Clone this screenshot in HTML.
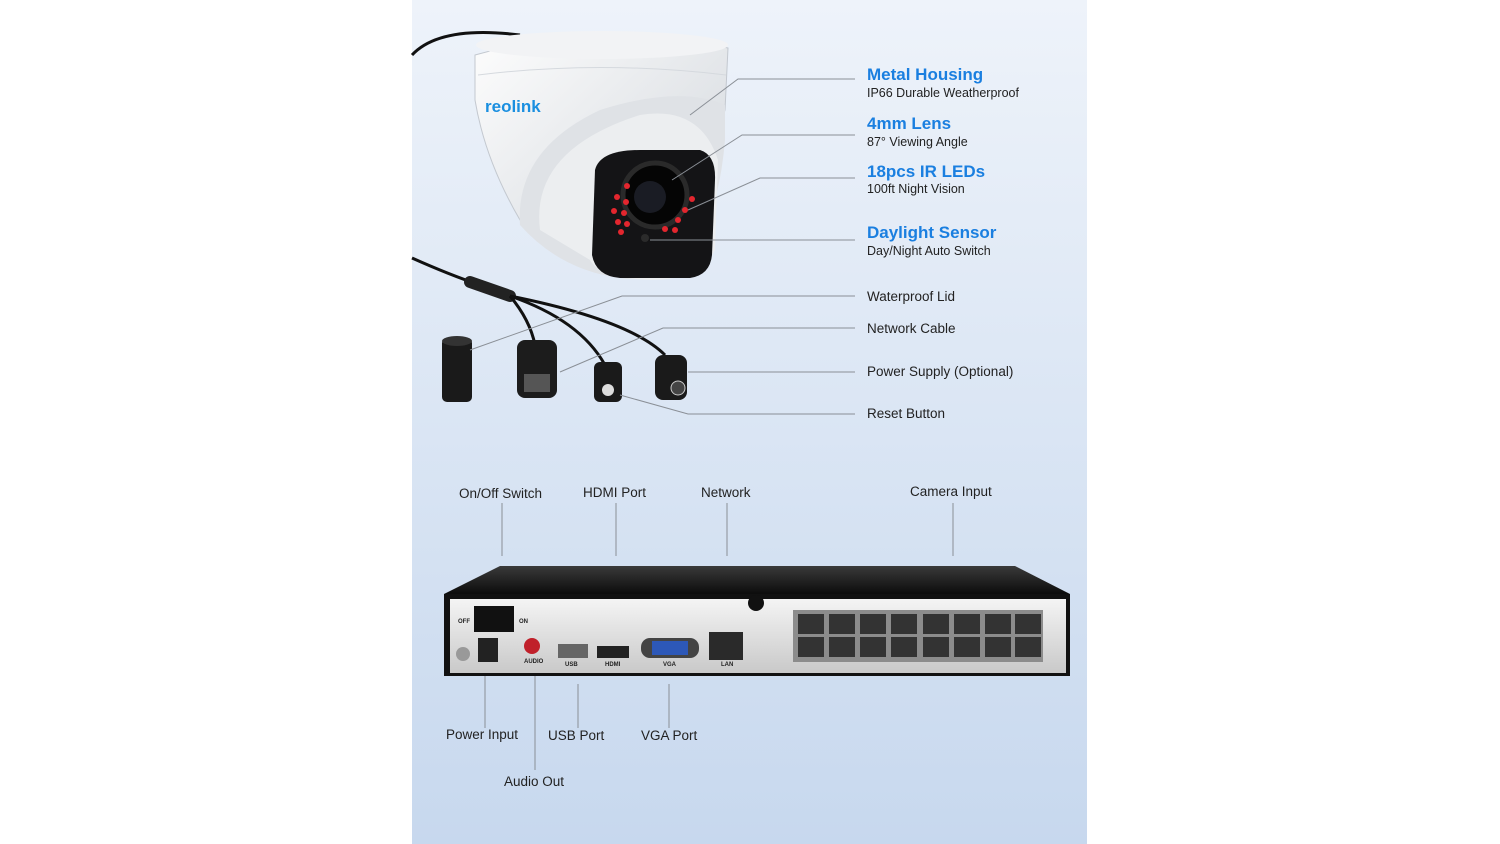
<!DOCTYPE html>
<html><head><meta charset="utf-8"><style>
html,body{margin:0;padding:0;width:1500px;height:844px;background:#fff;overflow:hidden}
svg{display:block}
text{font-family:"Liberation Sans",sans-serif}
</style></head><body>
<svg width="1500" height="844" viewBox="0 0 1500 844">
<defs>
<linearGradient id="bg" x1="0" y1="0" x2="0" y2="1">
<stop offset="0" stop-color="#eef3fa"/><stop offset="1" stop-color="#c7d8ee"/></linearGradient>
<linearGradient id="dome" x1="0" y1="0" x2="1" y2="1">
<stop offset="0" stop-color="#fdfdfd"/><stop offset="1" stop-color="#cfd4da"/></linearGradient>
<linearGradient id="top" x1="0" y1="0" x2="0" y2="1">
<stop offset="0" stop-color="#3a3a3a"/><stop offset="1" stop-color="#0c0c0c"/></linearGradient>
<linearGradient id="front" x1="0" y1="0" x2="0" y2="1">
<stop offset="0" stop-color="#f4f4f4"/><stop offset="1" stop-color="#c9c9c9"/></linearGradient>
</defs>
<rect x="412" y="0" width="675" height="844" fill="url(#bg)"/>
<path d="M412 55 Q440 25 520 35" stroke="#111" stroke-width="3" fill="none"/>
<path d="M412 258 Q450 275 480 285" stroke="#111" stroke-width="3" fill="none"/>
<path d="M470 282 L510 296" stroke="#222" stroke-width="12" stroke-linecap="round"/>
<path d="M510 296 Q530 320 535 345" stroke="#111" stroke-width="3" fill="none"/>
<path d="M510 296 Q580 320 605 365" stroke="#111" stroke-width="3" fill="none"/>
<path d="M510 296 Q630 320 665 355" stroke="#111" stroke-width="3" fill="none"/>
<!-- dome -->
<path d="M475 55 Q600 20 728 48 L725 110 Q700 200 640 270 Q560 260 520 220 Q485 160 475 100Z" fill="url(#dome)" stroke="#c3c8cf"/>
<ellipse cx="602" cy="45" rx="126" ry="14" fill="#f2f3f5"/>
<path d="M478 75 Q600 60 726 75" stroke="#d5d9de" fill="none"/>
<path d="M520 225 Q515 150 600 110 Q680 85 725 105 L725 140 Q720 200 700 240 Q660 285 620 278 Q560 270 520 225Z" fill="#dfe2e6"/>
<path d="M540 230 Q530 150 640 115 Q700 105 718 160 L715 250 Q700 280 650 280 Q600 278 590 260Z" fill="#eceef0"/>
<path d="M595 170 Q600 150 640 150 L700 150 Q716 155 715 180 L712 255 Q710 275 690 278 L620 278 Q596 276 592 255Z" fill="#141416"/>
<circle cx="655" cy="195" r="32" fill="#050505" stroke="#2a2a2a" stroke-width="5"/>
<circle cx="650" cy="197" r="16" fill="#1a1c24"/>
<g fill="#e3262e">
<circle cx="627" cy="186" r="3"/><circle cx="617" cy="197" r="3"/><circle cx="626" cy="202" r="3"/><circle cx="614" cy="211" r="3"/><circle cx="624" cy="213" r="3"/><circle cx="618" cy="222" r="3"/><circle cx="627" cy="224" r="3"/><circle cx="621" cy="232" r="3"/>
<circle cx="692" cy="199" r="3"/><circle cx="685" cy="210" r="3"/><circle cx="678" cy="220" r="3"/><circle cx="675" cy="230" r="3"/><circle cx="665" cy="229" r="3"/>
</g>
<circle cx="645" cy="238" r="4" fill="#2b2b2b"/>
<text x="485" y="112" font-size="17" fill="#1a8fe0" font-weight="bold">reolink</text>
<rect x="442" y="338" width="30" height="64" rx="5" fill="#1a1a1a"/>
<ellipse cx="457" cy="341" rx="15" ry="5" fill="#333"/>
<rect x="517" y="340" width="40" height="58" rx="8" fill="#1c1c1c"/>
<rect x="524" y="374" width="26" height="18" fill="#555"/>
<rect x="594" y="362" width="28" height="40" rx="6" fill="#1a1a1a"/>
<circle cx="608" cy="390" r="6" fill="#ddd"/>
<rect x="655" y="355" width="32" height="45" rx="8" fill="#1a1a1a"/>
<circle cx="678" cy="388" r="7" fill="#444" stroke="#ccc"/>
<g stroke="#8a8f96" stroke-width="1" fill="none">
<path d="M690 115 L738 79 L855 79"/>
<path d="M672 180 L742 135 L855 135"/>
<path d="M688 210 L760 178 L855 178"/>
<path d="M650 240 L855 240"/>
<path d="M470 350 L622 296 L855 296"/>
<path d="M560 372 L663 328 L855 328"/>
<path d="M688 372 L855 372"/>
<path d="M620 395 L688 414 L855 414"/>
<path d="M502 503 V556 M616 503 V556 M727 503 V556 M953 503 V556"/>
<path d="M485 676 V728 M535 676 V770 M578 684 V728 M669 684 V728"/>
</g>
<g font-size="17" fill="#1a7fe0" font-weight="bold">
<text x="867" y="80">Metal Housing</text><text x="867" y="129">4mm Lens</text>
<text x="867" y="177">18pcs IR LEDs</text><text x="867" y="238">Daylight Sensor</text>
</g>
<g font-size="12.5" fill="#222">
<text x="867" y="97">IP66 Durable Weatherproof</text><text x="867" y="146">87° Viewing Angle</text>
<text x="867" y="193">100ft Night Vision</text><text x="867" y="255">Day/Night Auto Switch</text>
</g>
<g font-size="13.5" fill="#222">
<text x="867" y="301">Waterproof Lid</text><text x="867" y="333">Network Cable</text>
<text x="867" y="376">Power Supply (Optional)</text><text x="867" y="418">Reset Button</text>
<text x="459" y="498">On/Off Switch</text><text x="583" y="497">HDMI Port</text>
<text x="701" y="497">Network</text><text x="910" y="496">Camera Input</text>
<text x="446" y="739">Power Input</text><text x="548" y="740">USB Port</text>
<text x="641" y="740">VGA Port</text><text x="504" y="786">Audio Out</text>
</g>
<path d="M444 594 L500 566 L1015 566 L1070 594Z" fill="url(#top)"/>
<rect x="444" y="594" width="626" height="82" fill="#111"/>
<rect x="450" y="599" width="616" height="74" fill="url(#front)"/>
<rect x="474" y="606" width="40" height="26" fill="#111"/>
<circle cx="756" cy="603" r="8" fill="#111"/>
<circle cx="463" cy="654" r="7" fill="#999"/>
<rect x="478" y="638" width="20" height="24" fill="#222"/>
<circle cx="532" cy="646" r="8" fill="#c0202a"/>
<rect x="558" y="644" width="30" height="14" fill="#666"/>
<rect x="597" y="646" width="32" height="12" fill="#222"/>
<rect x="641" y="638" width="58" height="20" rx="9" fill="#444"/>
<rect x="652" y="641" width="36" height="14" fill="#2d58b8"/>
<rect x="709" y="632" width="34" height="28" fill="#2a2a2a"/>
<rect x="793" y="610" width="250" height="52" fill="#8c8c8c"/>
<g fill="#333">
<rect x="798" y="614" width="26" height="20"/><rect x="829" y="614" width="26" height="20"/><rect x="860" y="614" width="26" height="20"/><rect x="891" y="614" width="26" height="20"/>
<rect x="923" y="614" width="26" height="20"/><rect x="954" y="614" width="26" height="20"/><rect x="985" y="614" width="26" height="20"/><rect x="1015" y="614" width="26" height="20"/>
<rect x="798" y="637" width="26" height="20"/><rect x="829" y="637" width="26" height="20"/><rect x="860" y="637" width="26" height="20"/><rect x="891" y="637" width="26" height="20"/>
<rect x="923" y="637" width="26" height="20"/><rect x="954" y="637" width="26" height="20"/><rect x="985" y="637" width="26" height="20"/><rect x="1015" y="637" width="26" height="20"/>
</g>
<g font-size="6" fill="#222" font-weight="bold">
<text x="458" y="623">OFF</text><text x="519" y="623">ON</text><text x="565" y="666">USB</text><text x="605" y="666">HDMI</text><text x="663" y="666">VGA</text><text x="721" y="666">LAN</text><text x="524" y="663">AUDIO</text>
</g>
</svg>
</body></html>
